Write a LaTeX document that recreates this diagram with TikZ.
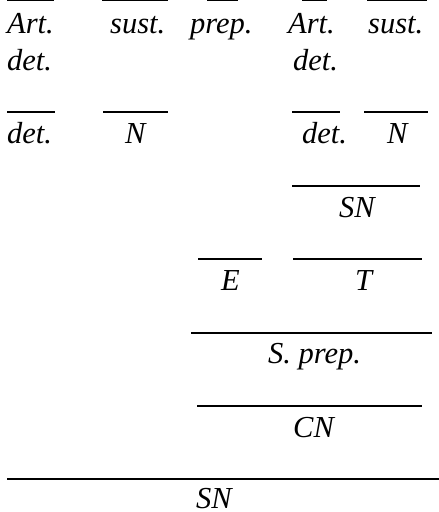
\documentclass[tikz,border=0pt]{standalone}
\usepackage{fontspec}
\setmainfont{Liberation Serif}
\begin{document}
\begin{tikzpicture}[x=1pt,y=-1pt,
  lbl/.style={anchor=base west,inner sep=0pt,font=\fontsize{30.5}{36.6}\selectfont\itshape},
  rule/.style={line width=1.3pt}]
\useasboundingbox (0,0) rectangle (439,512);
% top rules
\draw[rule] (7,0.8) -- (54,0.8);
\draw[rule] (102,0.8) -- (168,0.8);
\draw[rule] (207,0.8) -- (238,0.8);
\draw[rule] (302,0.8) -- (327,0.8);
\draw[rule] (367,0.8) -- (427,0.8);
% row 1
\node[lbl] (a1) at (7,33) {Art.};
\node[lbl] (a1b) at (7,70) {det.};
\node[lbl] (s1) at (110,33) {sust.};
\node[lbl] (p1) at (190,33) {prep.};
\node[lbl] (a2) at (288,33) {Art.};
\node[lbl] (a2b) at (293,70) {det.};
\node[lbl] (s2) at (368,33) {sust.};
% row 2
\draw[rule] (7,112) -- (55,112);
\draw[rule] (103,112) -- (168,112);
\draw[rule] (292,112) -- (340,112);
\draw[rule] (364,112) -- (428,112);
\node[lbl] (d1) at (7,143) {det.};
\node[lbl] (n1) at (125,143) {N};
\node[lbl] (d2) at (302,143) {det.};
\node[lbl] (n2) at (387,143) {N};
% SN
\draw[rule] (292,186) -- (420,186);
\node[lbl] (sn1) at (339,217) {SN};
% E and T
\draw[rule] (198,259) -- (262,259);
\draw[rule] (293,259) -- (422,259);
\node[lbl] (e) at (221,290) {E};
\node[lbl] (t) at (355,290) {T};
% S. prep.
\draw[rule] (191,333) -- (432,333);
\node[lbl] (sp) at (268,363) {S. prep.};
% CN
\draw[rule] (197,406) -- (422,406);
\node[lbl] (cn) at (293,437) {CN};
% SN bottom
\draw[rule] (7,479) -- (439,479);
\node[lbl] (sn2) at (196,508) {SN};
\end{tikzpicture}
\end{document}
